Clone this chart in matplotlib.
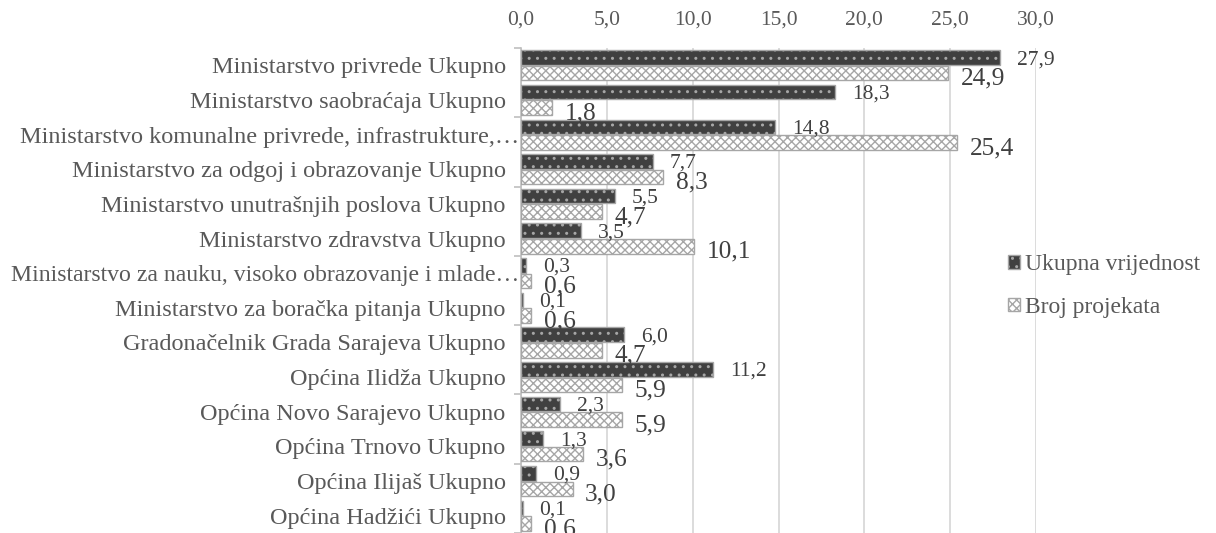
import matplotlib
matplotlib.use("Agg")
import matplotlib.pyplot as plt
import matplotlib.transforms as mtransforms
import numpy as np
from matplotlib.ticker import FuncFormatter, FixedLocator

categories = [
    "Ministarstvo privrede Ukupno",
    "Ministarstvo saobraćaja Ukupno",
    "Ministarstvo komunalne privrede, infrastrukture,…",
    "Ministarstvo za odgoj i obrazovanje Ukupno",
    "Ministarstvo unutrašnjih poslova Ukupno",
    "Ministarstvo zdravstva Ukupno",
    "Ministarstvo za nauku, visoko obrazovanje i mlade…",
    "Ministarstvo za boračka pitanja Ukupno",
    "Gradonačelnik Grada Sarajeva Ukupno",
    "Općina Ilidža Ukupno",
    "Općina Novo Sarajevo Ukupno",
    "Općina Trnovo Ukupno",
    "Općina Ilijaš Ukupno",
    "Općina Hadžići Ukupno",
]
ukupna_vrijednost = [27.9, 18.3, 14.8, 7.7, 5.5, 3.5, 0.3, 0.1, 6.0, 11.2, 2.3, 1.3, 0.9, 0.1]
broj_projekata = [24.9, 1.8, 25.4, 8.3, 4.7, 10.1, 0.6, 0.6, 4.7, 5.9, 5.9, 3.6, 3.0, 0.6]
x_ticks = [0, 5, 10, 15, 20, 25, 30]

plt.rcParams['font.family'] = ['Liberation Serif', 'DejaVu Serif']
plt.rcParams['hatch.linewidth'] = 1.0

TEXT = '#595959'
fig = plt.figure(figsize=(12.16, 5.33), dpi=100)
ax = fig.add_axes([521 / 1216, 0.0, 515 / 1216, 1 - 48 / 533])

y = np.arange(len(categories))
h = 0.42
off = 0.225
bars_dark = ax.barh(y - off, ukupna_vrijednost, height=h, color='#404040',
                    edgecolor='#a6a6a6', hatch='..', linewidth=1.0,
                    label='Ukupna vrijednost', zorder=3)
bars_hatch = ax.barh(y + off, broj_projekata, height=h, color='white',
                     edgecolor='#a6a6a6', hatch='xxxx', linewidth=1.0,
                     label='Broj projekata', zorder=3)

fmt = lambda v: f"{v:.1f}".replace('.', ',')
for yy, v in zip(y - off, ukupna_vrijednost):
    ax.annotate(fmt(v), (v, yy), xytext=(12, -1.5), textcoords='offset points',
                va='center', ha='left', fontsize=15.5, color='#404040')
for yy, v in zip(y + off, broj_projekata):
    ax.annotate(fmt(v), (v, yy), xytext=(9, -4), textcoords='offset points',
                va='center', ha='left', fontsize=18.3, color='#404040')

ax.set_xlim(0, 30)
ax.set_ylim(len(categories) - 0.5, -0.5)
ax.xaxis.tick_top()
ax.set_xticks(x_ticks)
ax.xaxis.set_major_formatter(FuncFormatter(lambda v, p: fmt(v)))
ax.tick_params(axis='x', length=0, pad=13, labelsize=15.5, labelcolor=TEXT)
ax.grid(axis='x', color='#d9d9d9', linewidth=1.3, zorder=0)

# long (truncated) labels sit closer to the axis, as in the original
long_labels = [c.endswith('…') for c in categories]
ax.set_yticks(y)
ax.set_yticklabels(['' if lg else c for c, lg in zip(categories, long_labels)])
ax.tick_params(axis='y', length=0, pad=11, labelsize=17.5, labelcolor=TEXT)
trans = mtransforms.blended_transform_factory(ax.transAxes, ax.transData)
for yy, c, lg in zip(y, categories, long_labels):
    if lg:
        ax.text(-1.5 / 515, yy, c, transform=trans, ha='right',
                va='center_baseline', fontsize=17.5 if 'komunalne' in c else 17.1,
                color=TEXT)
ax.yaxis.set_minor_locator(FixedLocator(np.arange(-0.5, len(categories), 2)))
ax.tick_params(axis='y', which='minor', length=5, color='#bfbfbf', width=1.2)

for s in ['top', 'right', 'bottom']:
    ax.spines[s].set_visible(False)
ax.spines['left'].set_color('#bfbfbf')
ax.spines['left'].set_linewidth(1.2)

leg = fig.legend(handles=[bars_dark, bars_hatch], loc='center left',
                 bbox_to_anchor=(987 / 1216, 1 - 286 / 533), frameon=False,
                 prop={'family': 'Liberation Serif', 'size': 17},
                 handlelength=0.5, handleheight=0.5,
                 handletextpad=0.2, labelspacing=0.9, labelcolor=TEXT)

fig.savefig('out.png', dpi=100)
